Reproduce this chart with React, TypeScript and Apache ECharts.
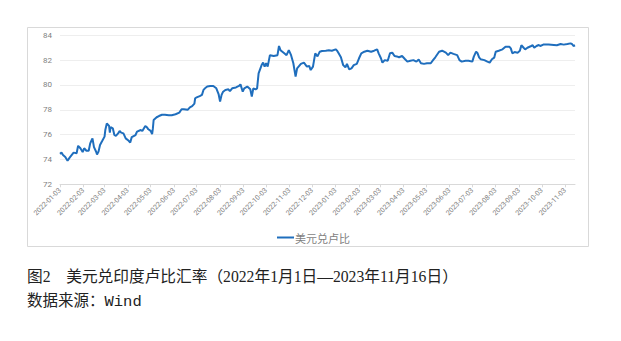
import React, { useEffect, useRef } from "react";
import * as echarts from "echarts";

const startDate = "2022-01-03";
const endDate = "2023-11-16";

const tickLabels = [
  "2022-01-03", "2022-02-03", "2022-03-03", "2022-04-03", "2022-05-03", "2022-06-03",
  "2022-07-03", "2022-08-03", "2022-09-03", "2022-10-03", "2022-11-03", "2022-12-03",
  "2023-01-03", "2023-02-03", "2023-03-03", "2023-04-03", "2023-05-03", "2023-06-03",
  "2023-07-03", "2023-08-03", "2023-09-03", "2023-10-03", "2023-11-03",
];

const yTicks = [72, 74, 76, 78, 80, 82, 84];

const seriesName = "美元兑卢比";

const dates2022 = [
  "2022-01-03", "2022-01-05", "2022-01-07", "2022-01-10", "2022-01-13", "2022-01-16", "2022-01-21", "2022-01-25",
  "2022-01-27", "2022-01-30", "2022-02-02", "2022-02-04", "2022-02-07", "2022-02-10", "2022-02-12", "2022-02-14",
  "2022-02-15", "2022-02-17", "2022-02-20", "2022-02-21", "2022-02-23", "2022-02-25", "2022-02-28", "2022-03-03",
  "2022-03-04", "2022-03-06", "2022-03-09", "2022-03-10", "2022-03-11", "2022-03-14", "2022-03-16", "2022-03-18",
  "2022-03-21", "2022-03-23", "2022-03-25", "2022-03-28", "2022-03-31", "2022-04-04", "2022-04-06", "2022-04-08",
  "2022-04-13", "2022-04-15", "2022-04-20", "2022-04-22", "2022-04-24", "2022-04-26", "2022-04-28", "2022-04-30",
  "2022-05-03", "2022-05-05", "2022-05-06", "2022-05-07", "2022-05-11", "2022-05-14", "2022-05-18", "2022-05-22",
  "2022-05-27", "2022-05-31", "2022-06-05", "2022-06-10", "2022-06-13", "2022-06-16", "2022-06-21", "2022-06-24",
  "2022-06-27", "2022-06-30", "2022-07-01", "2022-07-03", "2022-07-07", "2022-07-10", "2022-07-12", "2022-07-14",
  "2022-07-17", "2022-07-21", "2022-07-25", "2022-07-29", "2022-08-01", "2022-08-03", "2022-08-05", "2022-08-07",
  "2022-08-10", "2022-08-14", "2022-08-16", "2022-08-19", "2022-08-24", "2022-08-28", "2022-08-30", "2022-09-02",
  "2022-09-04", "2022-09-08", "2022-09-12", "2022-09-14", "2022-09-16", "2022-09-19", "2022-09-21", "2022-09-23",
  "2022-09-27", "2022-09-29", "2022-10-01", "2022-10-03", "2022-10-05", "2022-10-08", "2022-10-13", "2022-10-18",
  "2022-10-20", "2022-10-22", "2022-10-27", "2022-10-30", "2022-11-02", "2022-11-05", "2022-11-08", "2022-11-11",
  "2022-11-13", "2022-11-18", "2022-11-22", "2022-11-26", "2022-11-29", "2022-12-01", "2022-12-04", "2022-12-07",
  "2022-12-10", "2022-12-13", "2022-12-16", "2022-12-21", "2022-12-25", "2022-12-29",
];

const values2022 = [
  74.45, 74.55, 74.36, 74.2, 73.9, 74.17, 74.55, 74.5,
  75.1, 74.9, 74.6, 74.9, 74.7, 74.7, 75.3, 75.57,
  75.7, 75.0, 74.6, 74.4, 74.63, 75.17, 75.5, 75.84,
  76.37, 76.9, 76.7, 76.16, 76.6, 76.5, 75.97, 75.9,
  76.1, 76.3, 76.16, 76.1, 75.7, 75.5, 75.36, 75.8,
  75.97, 76.24, 76.37, 76.3, 76.5, 76.7, 76.6, 76.43,
  76.3, 76.05, 76.5, 77.18, 77.4, 77.5, 77.6, 77.6,
  77.56, 77.56, 77.64, 77.77, 78.04, 78.04, 78.0, 78.2,
  78.3, 78.5, 78.93, 79.0, 79.1, 79.2, 79.6, 79.73,
  79.87, 79.92, 79.92, 79.73, 79.27, 78.66, 79.2, 79.46,
  79.6, 79.65, 79.5, 79.73, 79.8, 79.92, 80.05, 79.46,
  79.73, 79.87, 79.65, 79.06, 79.73, 79.65, 79.73, 80.94,
  81.6, 81.8, 81.48, 81.75, 81.48, 82.4, 82.33, 82.4,
  83.14, 82.8, 82.55, 82.4, 82.8, 82.4, 81.75, 80.67,
  81.34, 81.7, 81.8, 81.48, 81.53, 81.2, 81.48, 82.55,
  82.3, 82.68, 82.74, 82.76, 82.8, 82.76,
];

const dates2023 = [
  "2023-01-03", "2023-01-05", "2023-01-07", "2023-01-10", "2023-01-13", "2023-01-16", "2023-01-18", "2023-01-21",
  "2023-01-24", "2023-01-27", "2023-01-31", "2023-02-03", "2023-02-06", "2023-02-10", "2023-02-14", "2023-02-19",
  "2023-02-23", "2023-02-27", "2023-03-01", "2023-03-04", "2023-03-06", "2023-03-09", "2023-03-13", "2023-03-16",
  "2023-03-19", "2023-03-22", "2023-03-25", "2023-03-28", "2023-04-01", "2023-04-05", "2023-04-08", "2023-04-12",
  "2023-04-16", "2023-04-20", "2023-04-23", "2023-04-26", "2023-04-30", "2023-05-04", "2023-05-09", "2023-05-12",
  "2023-05-15", "2023-05-20", "2023-05-24", "2023-05-29", "2023-06-01", "2023-06-04", "2023-06-08", "2023-06-13",
  "2023-06-16", "2023-06-19", "2023-06-24", "2023-06-28", "2023-07-03", "2023-07-05", "2023-07-08", "2023-07-10",
  "2023-07-12", "2023-07-14", "2023-07-19", "2023-07-23", "2023-07-26", "2023-07-29", "2023-08-01", "2023-08-03",
  "2023-08-07", "2023-08-12", "2023-08-16", "2023-08-21", "2023-08-23", "2023-08-25", "2023-08-28", "2023-09-01",
  "2023-09-04", "2023-09-06", "2023-09-09", "2023-09-11", "2023-09-14", "2023-09-19", "2023-09-21", "2023-09-23",
  "2023-09-26", "2023-09-29", "2023-10-01", "2023-10-05", "2023-10-12", "2023-10-19", "2023-10-23", "2023-10-28",
  "2023-11-01", "2023-11-06", "2023-11-10", "2023-11-12", "2023-11-14", "2023-11-16",
];

const values2023 = [
  82.87, 82.76, 82.55, 82.23, 81.6, 81.42, 81.7, 81.26,
  81.34, 81.6, 81.7, 82.15, 82.55, 82.68, 82.76, 82.68,
  82.76, 82.87, 82.55, 82.15, 81.8, 82.0, 81.95, 82.55,
  82.6, 82.33, 82.3, 82.23, 82.33, 82.07, 81.88, 81.95,
  82.0, 81.88, 82.05, 81.75, 81.7, 81.75, 81.75, 82.0,
  82.23, 82.68, 82.76, 82.6, 82.4, 82.6, 82.5, 82.4,
  82.0, 81.88, 81.95, 81.95, 81.88, 82.28, 82.68, 82.55,
  82.23, 82.07, 82.0, 81.88, 81.8, 82.07, 82.2, 82.68,
  82.76, 82.87, 83.08, 83.08, 82.95, 82.55, 82.65, 82.6,
  82.75, 83.2, 83.0, 82.87, 83.0, 83.14, 83.2, 83.0,
  83.14, 83.22, 83.14, 83.25, 83.25, 83.22, 83.2, 83.3,
  83.25, 83.3, 83.35, 83.3, 83.14, 83.2,
];

function buildCategories(): string[] {
  const out: string[] = [];
  const d = new Date(startDate + "T00:00:00Z");
  const end = new Date(endDate + "T00:00:00Z");
  while (d.getTime() <= end.getTime()) {
    out.push(d.toISOString().slice(0, 10));
    d.setUTCDate(d.getUTCDate() + 1);
  }
  return out;
}

export default function App() {
  const ref = useRef<HTMLDivElement>(null);

  useEffect(() => {
    if (!ref.current) return;
    const chart = echarts.init(ref.current, undefined, { renderer: "svg" });
    const categories = buildCategories();
    const allDates = [...dates2022, ...dates2023];
    const allValues = [...values2022, ...values2023];
    const data = allDates.map((d, i) => [categories.indexOf(d), allValues[i]]);
    const isTick = (_idx: number, value: string) => tickLabels.includes(value);

    chart.setOption({
      animation: false,
      backgroundColor: "#ffffff",
      grid: { left: 60, right: 46, top: 35.3, bottom: 156.7, containLabel: false },
      xAxis: {
        type: "category",
        data: categories,
        boundaryGap: false,
        axisLine: { show: true, lineStyle: { color: "#d9d9d9", width: 1 } },
        axisTick: { show: true, interval: isTick, length: 3, lineStyle: { color: "#d9d9d9" } },
        axisLabel: {
          interval: isTick,
          rotate: 45,
          fontSize: 7,
          color: "#7f7f7f",
          margin: 5,
          fontFamily: "Roboto, 'Noto Sans', sans-serif",
        },
        splitLine: { show: false },
      },
      yAxis: {
        type: "value",
        min: yTicks[0],
        max: yTicks[yTicks.length - 1],
        interval: 2,
        axisLine: { show: false },
        axisTick: { show: false },
        axisLabel: { fontSize: 8, color: "#7f7f7f", margin: 8, fontFamily: "Roboto, 'Noto Sans', sans-serif" },
        splitLine: { show: true, lineStyle: { color: "#eeeeee", width: 1 } },
      },
      legend: {
        data: [seriesName],
        left: 272,
        top: 227,
        icon: "rect",
        itemWidth: 17,
        itemHeight: 2,
        itemGap: 0,
        textStyle: { fontSize: 11, color: "#7f7f7f", fontFamily: "'Noto Sans CJK SC', sans-serif", padding: [0, 0, 0, -4] },
      },
      graphic: [
        {
          type: "rect",
          silent: true,
          z: -1,
          shape: { x: 27.5, y: 27.5, width: 561, height: 219 },
          style: { fill: "none", stroke: "#d9d9d9", lineWidth: 1 },
        },
        {
          type: "text",
          left: 27,
          top: 269,
          style: {
            text: "图2　美元兑印度卢比汇率（2022年1月1日—2023年11月16日）",
            fontSize: 15.7,
            fill: "#222222",
            fontFamily: "'Liberation Serif', 'Noto Sans CJK SC', serif",
          },
        },
        {
          type: "text",
          left: 27,
          top: 294,
          style: {
            text: "数据来源：Wind",
            fontSize: 15.5,
            fill: "#222222",
            fontFamily: "'Liberation Mono', 'Noto Sans CJK SC', monospace",
          },
        },
      ],
      series: [
        {
          name: seriesName,
          type: "line",
          data,
          showSymbol: false,
          symbol: "none",
          lineStyle: { color: "#1f6ebd", width: 2 },
          itemStyle: { color: "#1f6ebd" },
        },
      ],
    });

    return () => chart.dispose();
  }, []);

  return (
    <div
      ref={ref}
      style={{ position: "absolute", left: 0, top: 0, width: 621, height: 341 }}
    />
  );
}
